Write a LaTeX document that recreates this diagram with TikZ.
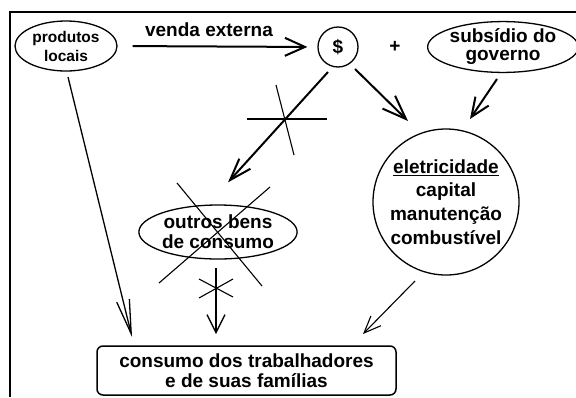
\documentclass[tikz,border=0pt]{standalone}
\usepackage{fontspec}
\setmainfont{Liberation Sans}
\usetikzlibrary{shapes.geometric,arrows.meta,calc}
\begin{document}
\begin{tikzpicture}[x=1pt,y=-1pt,
  txt/.style={font=\fontsize{19}{20}\selectfont\bfseries, align=center, inner sep=0pt},
  oval/.style={ellipse, draw, line width=1.3pt, inner sep=0pt},
  crossline/.style={line width=1.1pt},
  conn/.style={line width=2pt},
  thinconn/.style={line width=1.3pt},
  barb/.style n args={2}{-{Straight Barb[length=#1pt,width=#2pt]}}
]
\useasboundingbox (0,0) rectangle (576,397);
\fill[white] (0,0) rectangle (576,397);
% frame
\draw[line width=2.3pt] (10,397) -- (10,12) -- (577,12);

% nodes
\node[oval, minimum width=102pt, minimum height=50pt,
      font=\fontsize{15.5}{19}\selectfont\bfseries, align=center] (prod) at (66,46) {produtos\\locais};
\node[txt] (venda) at (209,30) {venda externa};
\node[circle, draw, line width=1.3pt, minimum size=40pt, inner sep=0pt, txt] (dollar) at (338,47) {\$};
\node[txt] (plus) at (395,47) {+};
\node[oval, minimum width=142pt, minimum height=50pt, txt, font=\fontsize{19}{18}\selectfont\bfseries] (subs) at (503,47) {subsídio do\\governo};
\node[circle, draw, line width=1.3pt, minimum size=146pt, inner sep=0pt, txt, font=\fontsize{19}{24}\selectfont\bfseries] (elec) at (446,202) {\underline{eletricidade}\\[-1pt]capital\\manutenção\\combustível};
\node[oval, minimum width=150pt, minimum height=54pt, txt] (outros) at (218,232) {outros bens\\de consumo};
\node[draw, rounded corners=6pt, line width=1.5pt, minimum width=299pt, minimum height=49pt, txt] (cons) at (246.5,370.5) {consumo dos trabalhadores\\e de suas famílias};

% connectors
\draw[conn, barb={20}{18}, shorten <=15pt, shorten >=10pt] (prod.east) -- (dollar.west);
\draw[conn, barb={22}{15}] ($(dollar)+(-10,25)$) -- ($(outros.north)+(10,-22)$);
\draw[conn, barb={24}{18}] ($(dollar)+(17,22)$) -- ($(elec)+(-38,-81)$);
\draw[conn, barb={19}{16}] ($(subs)+(-6,32)$) -- ($(elec)+(24,-83)$);
\draw[thinconn, barb={34}{13}] ($(prod)+(2,31)$) -- ($(cons)+(-114.5,-33.5)$);
\draw[thinconn, barb={18}{18}] ($(outros)+(-2,36)$) -- ($(cons)+(-30.5,-36.5)$);
\draw[line width=1.1pt, barb={17}{14}] ($(elec)+(-31,79)$) -- ($(cons)+(116.5,-36.5)$);

% crossing-out marks
\draw[crossline] (247,119) -- (327,119);
\draw[crossline] (276,85) -- (294,155);
\draw[crossline] (177,183) -- (262,286);
\draw[crossline] (270,187) -- (159,283);
\draw[crossline] (199,279) -- (233,297);
\draw[crossline] (199,298) -- (233,279);
\end{tikzpicture}
\end{document}
